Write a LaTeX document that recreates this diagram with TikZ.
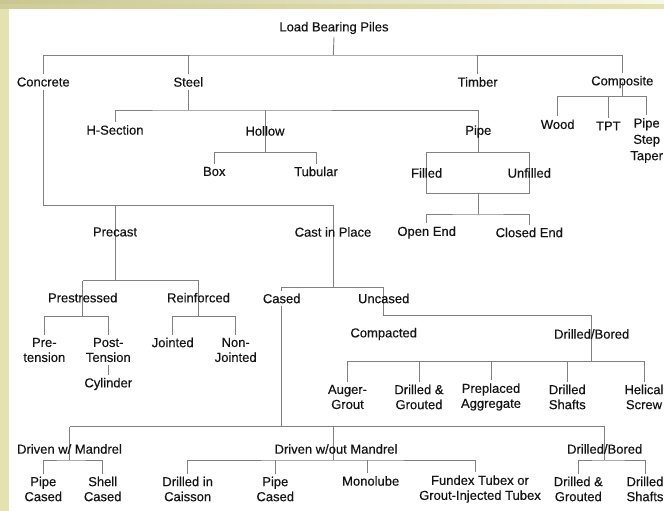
\documentclass[tikz,border=0pt]{standalone}
\usepackage{fontspec}
\setmainfont{Liberation Sans}
\definecolor{bandA}{RGB}{201,198,144}
\definecolor{bandB}{RGB}{247,247,236}
\definecolor{bandC}{RGB}{208,204,152}
\definecolor{bandD}{RGB}{228,226,174}
\definecolor{sideband}{RGB}{228,226,174}
\definecolor{linegray}{RGB}{128,128,128}
\definecolor{txt}{RGB}{20,20,20}
\pgfdeclarelayer{frame}
\pgfdeclarelayer{wires}
\pgfsetlayers{frame,wires,main}
\begin{document}
\begin{tikzpicture}[x=1pt,y=-1pt,
  lbl/.style={inner xsep=1pt,inner ysep=3pt,text=txt,font=\fontsize{13}{15}\selectfont\addfontfeature{FakeBold=0.35}},
  lbl2/.style={lbl,align=center},
  conn/.style={draw=linegray,line width=0.9pt}]
\useasboundingbox (0,0) rectangle (664,511);
% background frame
\begin{pgfonlayer}{frame}
\fill[sideband] (0,0) rectangle (664,511);
\shade[left color=bandA,right color=bandB] (0,0) rectangle (664,5);
\shade[left color=bandC,right color=bandD] (0,5) rectangle (664,9);
\fill[white] (9,9) rectangle (664,511);
\end{pgfonlayer}

% nodes
\node[lbl] (root) at (334,28) {Load Bearing Piles};
\node[lbl] (concrete) at (43.3,82) {Concrete};
\node[lbl] (steel) at (188.3,82) {Steel};
\node[lbl] (timber) at (477.7,82) {Timber};
\node[lbl] (composite) at (622.3,82) {Composite};
\node[lbl] (hsec) at (115,130) {H-Section};
\node[lbl] (hollow) at (265,131) {Hollow};
\node[lbl] (spipe) at (478.3,131.5) {Pipe};
\node[lbl] (wood) at (557.7,124.3) {Wood};
\node[lbl] (tpt) at (608.3,126) {TPT};
\node[lbl2,font=\fontsize{13}{16.3}\selectfont\addfontfeature{FakeBold=0.35}] (pst) at (646.7,140.5) {Pipe\\Step\\Taper};
\node[lbl] (box) at (214.3,171.5) {Box};
\node[lbl] (tubular) at (316,171.5) {Tubular};
\node[lbl] (filled) at (426.7,173) {Filled};
\node[lbl] (unfilled) at (529.3,173) {Unfilled};
\node[lbl] (openend) at (426.7,232.5) {Open End};
\node[lbl] (closedend) at (529.3,232.5) {Closed End};
\node[lbl] (precast) at (115,232) {Precast};
\node[lbl] (castin) at (333,232) {Cast in Place};
\node[lbl] (prestressed) at (82.7,297.7) {Prestressed};
\node[lbl] (reinforced) at (198.5,297.7) {Reinforced};
\node[lbl] (cased) at (281.7,298.5) {Cased};
\node[lbl] (uncased) at (383.7,298.5) {Uncased};
\node[lbl2] (pre) at (44.3,350) {Pre-\\tension};
\node[lbl2] (post) at (108.3,350) {Post-\\Tension};
\node[lbl] (cylinder) at (108.3,384) {Cylinder};
\node[lbl] (jointed) at (172.7,342.5) {Jointed};
\node[lbl2] (nonj) at (235.7,350) {Non-\\Jointed};
\node[lbl] (compacted) at (383.7,334) {Compacted};
\node[lbl] (dbu) at (591.7,334) {Drilled/Bored};
\node[lbl2] (auger) at (347.5,397) {Auger-\\Grout};
\node[lbl2] (dgu) at (419,397) {Drilled \&\\Grouted};
\node[lbl2] (prep) at (491,397) {Preplaced\\Aggregate};
\node[lbl2] (dsu) at (567.3,397) {Drilled\\Shafts};
\node[lbl2] (helical) at (644,397) {Helical\\Screw};
\node[lbl] (dwm) at (69.5,449) {Driven w/ Mandrel};
\node[lbl] (dwom) at (336,449) {Driven w/out Mandrel};
\node[lbl] (dbl) at (604.7,449) {Drilled/Bored};
\node[lbl2] (pc1) at (43.3,489) {Pipe\\Cased};
\node[lbl2] (sc) at (102.7,489) {Shell\\Cased};
\node[lbl2] (dic) at (187.7,489) {Drilled in\\Caisson};
\node[lbl2] (pc2) at (275.3,489) {Pipe\\Cased};
\node[lbl] (mono) at (370.7,481) {Monolube};
\node[lbl2] (fundex) at (480,489) {Fundex Tubex or\\Grout-Injected Tubex};
\node[lbl2] (dgl) at (578.3,489) {Drilled \&\\Grouted};
\node[lbl2] (dsl) at (645,489) {Drilled\\Shafts};

% bus coordinates
\coordinate (b0) at (333.3,55);
\coordinate (b1) at (188.3,110);
\coordinate (b2) at (265,152.7);
\coordinate (b3) at (478.3,152.7);
\coordinate (b4) at (478.3,193.3);
\coordinate (b5) at (478.3,214);
\coordinate (b6) at (43.3,205);
\coordinate (b7) at (333.3,287.3);
\coordinate (b8) at (115,280.7);
\coordinate (b9) at (82.7,316.7);
\coordinate (b10) at (383.7,315.7);
\coordinate (b11) at (591.7,361.7);
\coordinate (b12) at (281.7,426.7);
\coordinate (b13) at (333.3,460);
\coordinate (cmp) at (622.3,96.7);
\coordinate (monox) at (367.3,0);
\coordinate (fundx) at (475,0);

\begin{pgfonlayer}{wires}
% root level
\draw[conn] (root.south) -- (b0);
\draw[conn] (concrete.north) |- (b0) -| (composite.north);
\draw[conn] (steel.north) -- (steel.north |- b0);
\draw[conn] (timber.north) -- (timber.north |- b0);
% composite
\draw[conn] (composite.center) -- (cmp);
\draw[conn] (wood.north) |- (cmp) -| (pst.north);
\draw[conn] (tpt.north) -- (tpt.north |- cmp);
% steel
\draw[conn] (steel.south) -- (b1);
\draw[conn] (hsec.north) |- (b1) -| (b3);
\draw[conn] (hollow |- b1) -- (b2);
\draw[conn] (box.north) |- (b2) -| (tubular.north);
\draw[conn] (filled |- b3) rectangle (unfilled |- b4);
\draw[conn] (b4) -- (b5);
\draw[conn] (openend.north) |- (b5) -| (closedend.north);
% concrete
\draw[conn] (concrete.south) |- (b7 |- b6) -- (b7);
\draw[conn] (precast |- b6) -- (b8);
\draw[conn] (prestressed |- b8) -- (reinforced |- b8);
\draw[conn] (prestressed |- b8) -- (prestressed |- b9);
\draw[conn] (reinforced |- b8) -- (reinforced |- b9);
\draw[conn] (pre.north) |- (prestressed |- b9) -| (post.north);
\draw[conn] (jointed.north) |- (reinforced |- b9) -| (nonj.north);
\draw[conn] (post.south) -- (cylinder.north);
% cast in place
\draw[conn] (cased.north) |- (b7) -| (b10);
\draw[conn] (b10) -- (dbu |- b10) -- (b11);
\draw[conn] (auger.north) |- (b11) -| (helical.north);
\draw[conn] (dgu.north) -- (dgu.north |- b11);
\draw[conn] (prep.north) -- (prep.north |- b11);
\draw[conn] (dsu.north) -- (dsu.north |- b11);
% cased
\draw[conn] (cased.south) -- (b12);
\draw[conn] (dwm |- b12) -- (dbl |- b12);
\draw[conn] (dwm |- b12) -- (dwm |- b13);
\draw[conn] (b13 |- b12) -- (b13);
\draw[conn] (dbl |- b12) -- (dbl |- b13);
\draw[conn] (pc1.north) |- (dwm |- b13) -| (sc.north);
\draw[conn] (dic.north) |- (b13) -| (fundx |- fundex.north);
\draw[conn] (pc2.north) -- (pc2.north |- b13);
\draw[conn] (monox |- mono.north) -- (monox |- b13);
\draw[conn] (dgl.north) |- (dbl |- b13) -| (dsl.north);
\end{pgfonlayer}
\end{tikzpicture}
\end{document}
